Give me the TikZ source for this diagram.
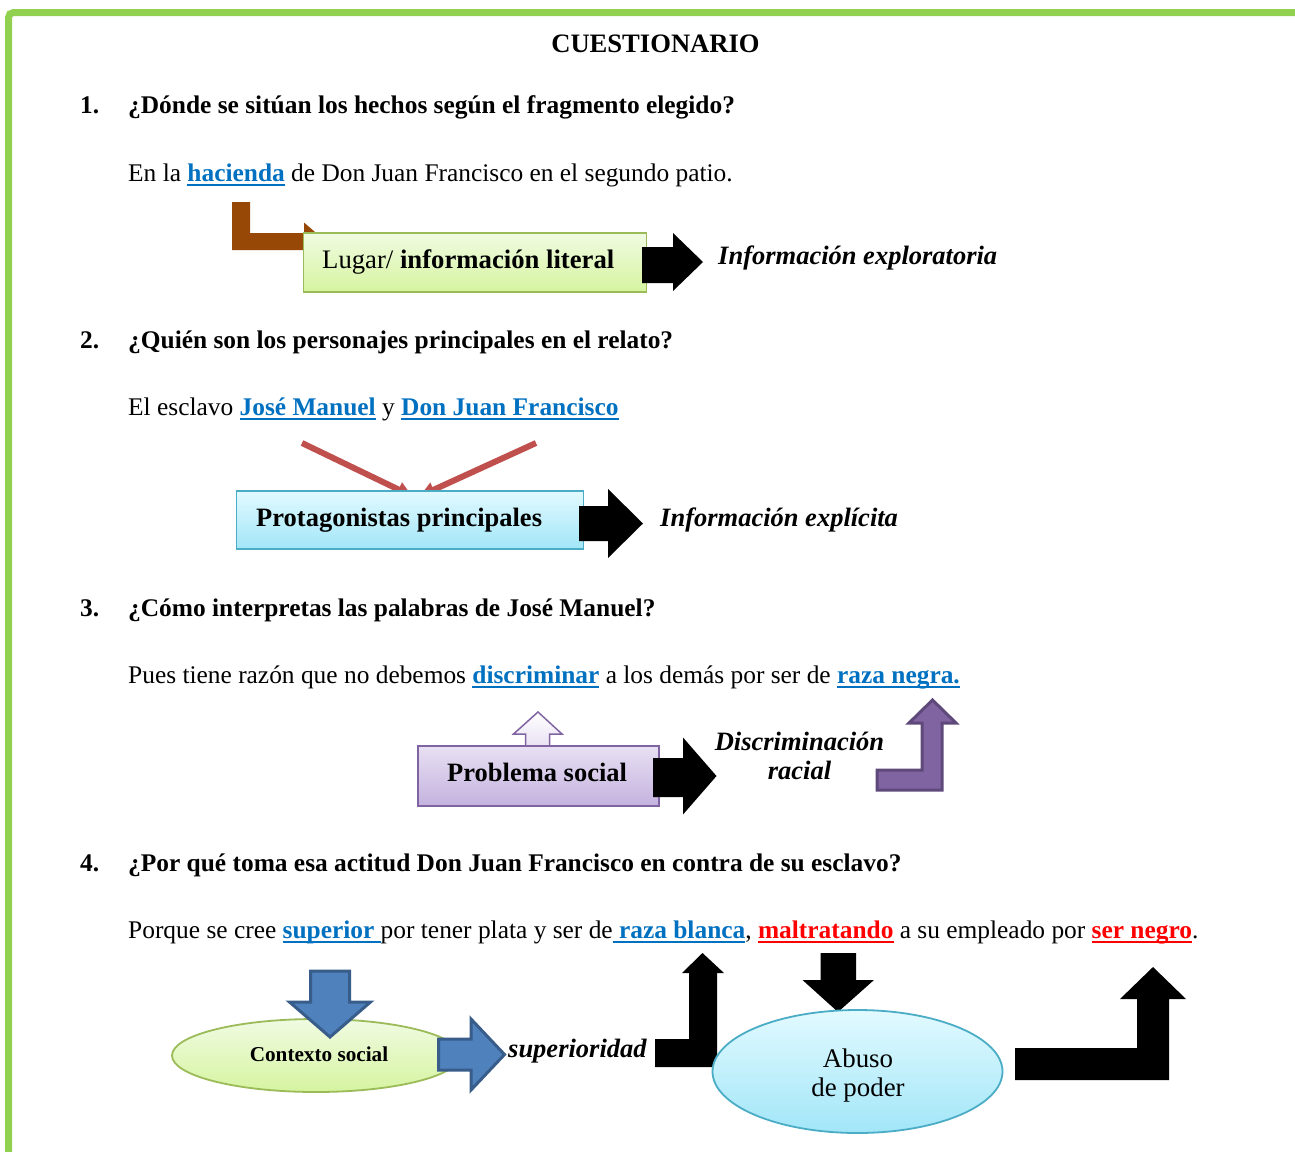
\documentclass[tikz,border=0pt]{standalone}
\usepackage{fontspec}
\setmainfont{Liberation Serif}
\usetikzlibrary{arrows.meta,shapes.geometric}
\definecolor{bordergreen}{HTML}{92D050}
\definecolor{linkblue}{HTML}{0070C0}
\definecolor{linkred}{HTML}{FF0000}
\definecolor{brownarr}{HTML}{984806}
\definecolor{redline}{HTML}{C0504D}
\definecolor{gbord}{HTML}{9BBB59}
\definecolor{gtop}{HTML}{F0FBE2}
\definecolor{gbot}{HTML}{D6F4A0}
\definecolor{cbord}{HTML}{4BACC6}
\definecolor{ctop}{HTML}{E2FAFF}
\definecolor{cbot}{HTML}{A2E6F8}
\definecolor{pbord}{HTML}{8064A2}
\definecolor{ptop}{HTML}{E8E0F3}
\definecolor{pbot}{HTML}{C4B2DF}
\definecolor{pdark}{HTML}{5F497A}
\definecolor{bfill}{HTML}{4F81BD}
\definecolor{bdark}{HTML}{385D8A}
\newcommand\fz[1]{\fontsize{#1}{#1}\selectfont}
\newsavebox\myulbox
\newcommand\myul[1]{\sbox\myulbox{#1}\rlap{\rule[-4.5pt]{\wd\myulbox}{2pt}}\usebox\myulbox}
\newcommand\lk[1]{{\bfseries\color{linkblue}\myul{#1}}}
\newcommand\rd[1]{{\bfseries\color{linkred}\myul{#1}}}
\tikzset{
  txt/.style={inner sep=0pt, anchor=base west, font=\fz{25.4}},
  ctr/.style={inner sep=0pt, anchor=base, font=\fz{25.4}},
  qtxt/.style={txt, font=\fz{25.4}\bfseries},
  lbl/.style={inner sep=0pt, anchor=base west, font=\fz{26.5}\bfseries\itshape},
  boxtxt/.style={inner sep=0pt, anchor=base west, font=\fz{26.7}},
  greenbox/.style={draw=gbord, line width=1.5pt, top color=gtop, bottom color=gbot, inner sep=0pt, anchor=north west},
  cyanbox/.style={draw=cbord, line width=1.8pt, top color=ctop, bottom color=cbot, inner sep=0pt, anchor=north west},
  purplebox/.style={draw=pbord, line width=1.8pt, top color=ptop, bottom color=pbot, inner sep=0pt, anchor=north west},
  blackarrow/.style={fill=black},
  bluearrow/.style={fill=bfill, draw=bdark, line width=3pt, line join=miter},
  purplearrow/.style={fill=pbord, draw=pdark, line width=3pt, line join=miter},
  lavarrow/.style={top color=white, bottom color=ptop, draw=pbord, line width=1.5pt},
  redarr/.style={draw=redline, line width=6pt, -{Triangle[length=15pt,width=15pt]}},
}
\begin{document}
\begin{tikzpicture}[x=1pt,y=-1pt]
\useasboundingbox (0,0) rectangle (1295,1151);
% green page border
\draw[line width=7pt, bordergreen, rounded corners=5pt] (8.5,1170) -- (8.5,12.5) -- (1310,12.5);

% title
\node[ctr, font=\fz{26.6}\bfseries] (title) at (655.5,52) {CUESTIONARIO};

% ---------- 1 ----------
\node[qtxt] (n1) at (80,113) {1.};
\node[qtxt] (q1) at (128,113) {¿Dónde se sitúan los hechos según el fragmento elegido?};
\node[txt] (a1) at (128,181) {En la \lk{hacienda} de Don Juan Francisco en el segundo patio.};
\fill[brownarr] (232,202) -- (250,202) -- (250,233) -- (304,233) -- (304,222.5) -- (326,241.5) -- (304,260.5) -- (304,250) -- (232,250) -- cycle;
\node[greenbox, minimum width=343pt, minimum height=59pt] (b1) at (302.5,232) {};
\node[boxtxt] (t1) at (322,268) {Lugar/ \textbf{información literal}};
\fill[blackarrow] (642,247) -- (673,247) -- (673,233) -- (703,262) -- (673,291) -- (673,283) -- (642,283) -- cycle;
\node[lbl] (l1) at (718,264) {Información exploratoria};

% ---------- 2 ----------
\node[qtxt] (n2) at (80,348) {2.};
\node[qtxt] (q2) at (128,348) {¿Quién son los personajes principales en el relato?};
\node[txt] (a2) at (128,415) {El esclavo \lk{José Manuel} y \lk{Don Juan Francisco}};
\draw[redarr] (302,443) -- (412,496);
\draw[redarr] (536,443) -- (420,496);
\node[cyanbox, minimum width=347pt, minimum height=58pt] (b2) at (235.5,490) {};
\node[boxtxt, font=\fz{26.5}\bfseries] (t2) at (256,526) {Protagonistas principales};
\fill[blackarrow] (579,506) -- (608,506) -- (608,489) -- (643,523.5) -- (608,558) -- (608,541) -- (579,541) -- cycle;
\node[lbl] (l2) at (660,526) {Información explícita};

% ---------- 3 ----------
\node[qtxt] (n3) at (80,616) {3.};
\node[qtxt] (q3) at (128,616) {¿Cómo interpretas las palabras de José Manuel?};
\node[txt] (a3) at (128,683) {Pues tiene razón que no debemos \lk{discriminar} a los demás por ser de \lk{raza negra.}};
\path[lavarrow] (525.5,748) -- (525.5,734) -- (513.5,734) -- (538,712) -- (562,734) -- (549.5,734) -- (549.5,748) -- cycle;
\node[purplebox, minimum width=241pt, minimum height=60pt] (b3) at (417,745) {};
\node[boxtxt, font=\fz{26.5}\bfseries] (t3) at (447,781) {Problema social};
\fill[blackarrow] (653,758) -- (683,758) -- (683,737.5) -- (716.5,776) -- (683,814.5) -- (683,797) -- (653,797) -- cycle;
\node[ctr, font=\fz{26.5}\bfseries\itshape] (l3a) at (799.5,750) {Discriminación};
\node[ctr, font=\fz{26.5}\bfseries\itshape] (l3b) at (799.5,779) {racial};
\path[purplearrow] (877,770) -- (922,770) -- (922,723) -- (909,723) -- (932.5,700) -- (956,723) -- (942,723) -- (942,790) -- (877,790) -- cycle;

% ---------- 4 ----------
\node[qtxt] (n4) at (80,871) {4.};
\node[qtxt] (q4) at (128,871) {¿Por qué toma esa actitud Don Juan Francisco en contra de su esclavo?};
\node[txt] (a4) at (128,938) {Porque se cree \lk{superior\ }por tener plata y ser de\lk{\ raza blanca}, \rd{maltratando} a su empleado por \rd{ser negro}.};

\node[draw=gbord, line width=1.8pt, top color=gtop, bottom color=gbot, ellipse, minimum width=288pt, minimum height=73pt, inner sep=0pt] (e1) at (316,1055.5) {};
\node[ctr, font=\fz{21.2}\bfseries] (t4) at (319,1061) {Contexto social};
\path[bluearrow] (310.5,971) -- (349.5,971) -- (349.5,1002) -- (370.5,1002) -- (330,1037) -- (289.5,1002) -- (310.5,1002) -- cycle;
\path[bluearrow] (438.5,1039) -- (471,1039) -- (471,1019) -- (504.5,1054.5) -- (471,1090) -- (471,1070) -- (438.5,1070) -- cycle;
\node[lbl] (l4) at (508,1057) {superioridad};

\fill[blackarrow] (655,1039) -- (689,1039) -- (689,973) -- (682,973) -- (702.5,953) -- (724,973) -- (717,973) -- (717,1067) -- (655,1067) -- cycle;
\fill[blackarrow] (820.5,953) -- (856,953) -- (856,980) -- (874,980) -- (838,1012) -- (802.5,980) -- (820.5,980) -- cycle;
\node[draw=cbord, line width=1.8pt, top color=ctop, bottom color=cbot, ellipse, minimum width=290pt, minimum height=123pt, inner sep=0pt] (e2) at (857.5,1071.5) {};
\node[ctr, font=\fz{26.9}] (t5a) at (858,1067) {Abuso};
\node[ctr, font=\fz{26.9}] (t5b) at (858,1096) {de poder};
\fill[blackarrow] (1015,1048) -- (1137,1048) -- (1137,999) -- (1120,999) -- (1153,967) -- (1186,999) -- (1169,999) -- (1169,1080) -- (1015,1080) -- cycle;
\end{tikzpicture}
\end{document}
